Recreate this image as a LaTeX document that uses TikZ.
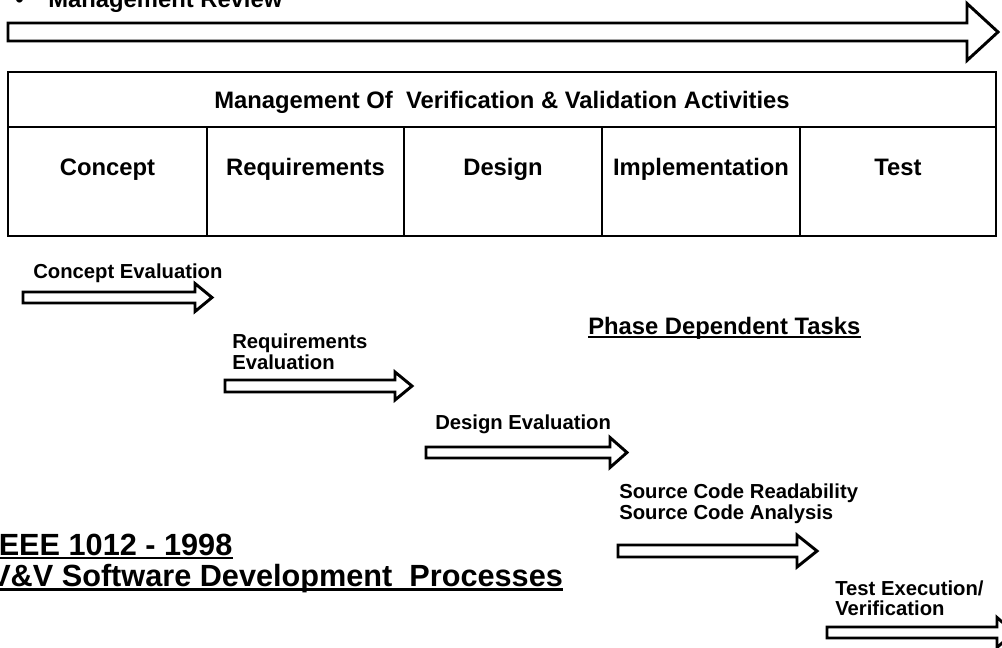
\documentclass[tikz,border=0pt]{standalone}
\usepackage{fontspec}
\setmainfont{Liberation Sans}
\usetikzlibrary{calc}
\tikzset{
  frame/.style={draw=black,line width=2.2pt},
  block/.style={draw=black,line width=2.2pt,fill=white,line join=miter},
  small/.style={font=\fontsize{15.2}{15.75}\selectfont\bfseries,inner sep=0pt},
  medium/.style={font=\fontsize{17.85}{20}\selectfont\bfseries,inner sep=0pt},
  title/.style={font=\fontsize{23}{26}\selectfont\bfseries,inner sep=0pt},
  uline/.style={draw=black,line width=1.9pt},
}
% block arrow: start x, head x, tip x, centre y, shaft half-height, head half-height
\newcommand\blockarrow[6]{%
  \draw[block] (#1,#4-#5) -- (#2,#4-#5) -- (#2,#4-#6) -- (#3,#4)
    -- (#2,#4+#6) -- (#2,#4+#5) -- (#1,#4+#5) -- cycle;}
\begin{document}
\begin{tikzpicture}[x=0.75pt,y=-0.75pt]
\useasboundingbox (0,0) rectangle (1002,647);
\clip (0,0) rectangle (1002,647);
\fill[white] (0,0) rectangle (1002,647);

% management review band
\node[medium,anchor=base west] (bullet) at (15,7) {•};
\node[medium,anchor=base west] (mreview) at (48,7) {Management Review};
\blockarrow{8}{967}{998}{32}{9}{28.5}

% V&V management table
\draw[frame] (8,72) rectangle (996,236);
\draw[frame] (8,127) -- (996,127);
\foreach \cx in {207,404,602,800} \draw[frame] (\cx,127) -- (\cx,236);
\node[medium,anchor=base] (mgmt) at (502,108.5) {Management Of\ \ Verification \& Validation Activities};
\node[medium,anchor=base] (concept) at (107.5,175.5) {Concept};
\node[medium,anchor=base] (reqs) at (305.5,175.5) {Requirements};
\node[medium,anchor=base] (design) at (503,175.5) {Design};
\node[medium,anchor=base] (impl) at (701,175.5) {Implementation};
\node[medium,anchor=base] (test) at (898,175.5) {Test};

% phase dependent tasks
\node[small,anchor=base west] (ceval) at (33,278) {Concept Evaluation};
\blockarrow{23}{195}{212}{297.5}{5.5}{14}

\node[medium,anchor=base west] (phase) at (588,334) {Phase Dependent Tasks};
\draw[uline,line width=1.5pt] ($(phase.base west)+(0,2.8)$) -- ($(phase.base east)+(0,2.8)$);

\node[small,anchor=base west] (reqA) at (232,348) {Requirements};
\node[small,anchor=base west] (reqB) at (232,369) {Evaluation};
\blockarrow{225}{395}{412}{386}{6}{14}

\node[small,anchor=base west] (deval) at (435,429) {Design Evaluation};
\blockarrow{426}{610}{627}{452.5}{5.5}{15}

\node[small,anchor=base west] (srcA) at (619,498) {Source Code Readability};
\node[small,anchor=base west] (srcB) at (619,519) {Source Code Analysis};
\blockarrow{618}{797}{817}{551}{6}{16}

\node[small,anchor=base west] (testA) at (835,595) {Test Execution/};
\node[small,anchor=base west] (testB) at (835,615) {Verification};
\blockarrow{827}{997}{1014}{632.5}{5.5}{15}

% standard reference title
\node[title,anchor=base west] (ieee) at (-10,555) {IEEE 1012 - 1998};
\draw[uline] ($(ieee.base west)+(0,3)$) -- ($(ieee.base east)+(0,3)$);
\node[title,anchor=base west] (vv) at (-10,586) {V\&V Software Development\ \ Processes};
\draw[uline] ($(vv.base west)+(0,3.5)$) -- ($(vv.base east)+(0,3.5)$);
\end{tikzpicture}
\end{document}
